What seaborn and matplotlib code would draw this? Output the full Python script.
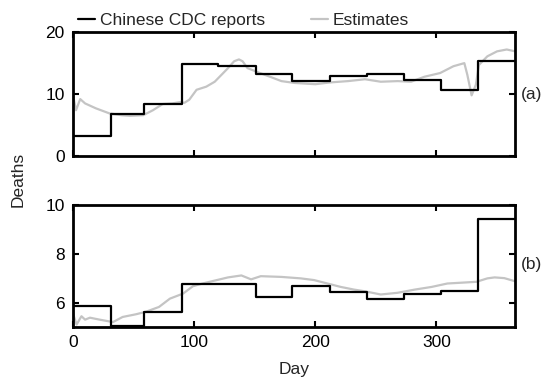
import numpy as np
import pandas as pd
import matplotlib
matplotlib.use("Agg")
import matplotlib.pyplot as plt
import seaborn as sns

# month boundaries (day of year)
month_start = [0, 31, 59, 90, 120, 151, 181, 212, 243, 273, 304, 334, 365]

# Chinese CDC monthly reports (last value repeated to close the final step)
cdc_a = [3.3, 6.8, 8.4, 14.8, 14.6, 13.2, 12.1, 12.9, 13.3, 12.2, 10.6, 15.3, 15.3]
cdc_b = [5.86, 5.05, 5.63, 6.75, 6.23, 6.67, 6.42, 6.16, 6.33, 6.48, 9.42, 9.42]
cdc_b_days = [0, 31, 59, 90, 151, 181, 212, 243, 273, 304, 334, 365]

# estimates
est_a_days = [0, 2.5, 6, 10, 19, 30, 40, 47, 58, 66, 74, 82, 88, 92, 96, 102, 110,
              117, 122, 128, 133, 137, 140, 144, 153, 164, 172, 183, 200, 213,
              227, 241, 254, 268, 279, 290, 303, 314, 323, 325.5, 329, 332.5,
              335, 342, 350, 358, 365]
est_a = [9.9, 7.4, 9.2, 8.5, 7.7, 6.9, 6.6, 6.5, 6.6, 7.4, 8.4, 8.5, 8.7, 8.6,
         9.1, 10.7, 11.2, 12.0, 13.0, 14.2, 15.3, 15.6, 15.3, 14.2, 13.5, 12.7,
         12.1, 11.8, 11.6, 11.9, 12.1, 12.4, 12.0, 12.1, 12.0, 12.8, 13.4, 14.5,
         15.0, 13.1, 9.8, 11.5, 14.7, 16.1, 16.9, 17.2, 16.9]

est_b_days = [0, 3, 7, 10, 14, 22, 33, 41, 52, 60, 71, 80, 91, 99, 107, 117,
              128, 139, 147, 155, 172, 188, 199, 210, 221, 232, 241, 254, 268,
              282, 296, 309, 323, 333, 342, 348, 356, 365]
est_b = [5.55, 5.1, 5.44, 5.3, 5.38, 5.3, 5.2, 5.41, 5.52, 5.62, 5.82, 6.16,
         6.37, 6.67, 6.78, 6.9, 7.03, 7.11, 6.95, 7.08, 7.05, 6.99, 6.92, 6.78,
         6.64, 6.53, 6.46, 6.33, 6.4, 6.53, 6.64, 6.78, 6.82, 6.85, 6.99, 7.03,
         7.0, 6.87]

sns.set_style("ticks")
plt.rcParams["font.family"] = ["Liberation Sans", "DejaVu Sans"]
plt.rcParams["font.size"] = 12.5

fig = plt.figure(figsize=(5.57, 3.78), dpi=100)
ax1 = fig.add_axes([0.131, 0.587, 0.794, 0.328])
ax2 = fig.add_axes([0.131, 0.135, 0.794, 0.323])

gray = "#c4c4c4"

sns.lineplot(x=est_a_days, y=est_a, ax=ax1, color=gray, lw=1.6, label="Estimates")
sns.lineplot(x=month_start, y=cdc_a, ax=ax1, color="black", lw=1.6,
             drawstyle="steps-post", label="Chinese CDC reports")
sns.lineplot(x=est_b_days, y=est_b, ax=ax2, color=gray, lw=1.6)
sns.lineplot(x=cdc_b_days, y=cdc_b, ax=ax2, color="black", lw=1.6,
             drawstyle="steps-post")

for ax in (ax1, ax2):
    ax.set_xlim(0, 365)
    ax.set_xticks([0, 100, 200, 300])
    ax.tick_params(direction="in", length=4, width=1.5, top=True, right=True,
                   labelsize=12.5, colors="black")
    ax.tick_params(axis="y", pad=6)
    ax.tick_params(axis="x", pad=6)
    for s in ax.spines.values():
        s.set_linewidth(2)
        s.set_color("black")
    ax.set_xlabel("")
    ax.set_ylabel("")

ax1.set_ylim(0, 20)
ax1.set_yticks([0, 10, 20])
ax1.set_xticklabels([])
ax2.set_ylim(5, 10)
ax2.set_yticks([6, 8, 10])

h, l = ax1.get_legend_handles_labels()
ax1.legend(h[::-1], l[::-1], ncol=2, frameon=False, loc="lower left",
           bbox_to_anchor=(-0.005, 0.975), handlelength=1.0, handletextpad=0.3,
           columnspacing=2.6, fontsize=12.5, borderaxespad=0)

fig.text(0.032, 0.524, "Deaths", rotation=90, ha="center", va="center", fontsize=12.5)
fig.text(0.528, 0.022, "Day", ha="center", va="center", fontsize=12.5)
fig.text(0.955, 0.75, "(a)", ha="center", va="center", fontsize=12.5)
fig.text(0.955, 0.30, "(b)", ha="center", va="center", fontsize=12.5)

fig.savefig("out.png", dpi=100)
